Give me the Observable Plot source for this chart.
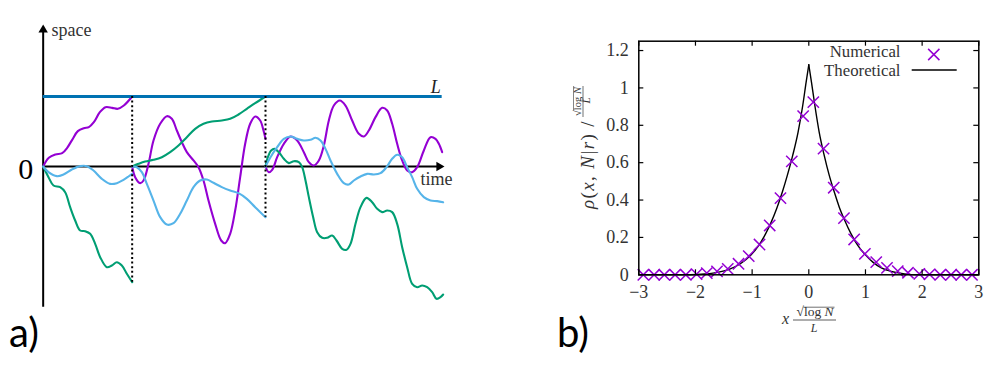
<!DOCTYPE html>
<html><head><meta charset="utf-8">
<script src="https://cdn.jsdelivr.net/npm/d3@7"></script>
<script src="https://cdn.jsdelivr.net/npm/@observablehq/plot@0.6"></script>
<style>
html,body{margin:0;padding:0;background:#fff;}
#wrap{position:relative;width:997px;height:371px;overflow:hidden;background:#fff;}
#wrap svg{position:absolute;top:0;}
</style></head><body><div id="wrap"></div>
<script>
// ---------- Panel a: random walks (time, space), L = 1 ----------
const timeMax = 12;
const spaceMax = 2.01;
const levelL = 1;

const purple1 = [[0,0],[0.17,0.124],[0.37,0.171],[0.57,0.19],[0.72,0.267],[0.87,0.381],[1.04,0.505],[1.22,0.548],[1.37,0.562],[1.52,0.633],[1.70,0.776],[1.87,0.848],[2.07,0.838],[2.24,0.824],[2.42,0.871],[2.67,1.0]];
const green1 = [[0,0],[0.16,-0.152],[0.31,-0.271],[0.51,-0.295],[0.66,-0.367],[0.81,-0.581],[0.96,-0.771],[1.11,-0.914],[1.26,-0.924],[1.41,-0.962],[1.56,-1.105],[1.71,-1.295],[1.91,-1.438],[2.06,-1.414],[2.21,-1.367],[2.36,-1.414],[2.51,-1.533],[2.67,-1.652]];
const blue1 = [[0,0],[0.16,-0.081],[0.41,-0.138],[0.61,-0.114],[0.86,-0.043],[1.11,0.005],[1.31,0.005],[1.51,-0.057],[1.76,-0.176],[2.01,-0.248],[2.21,-0.238],[2.41,-0.190],[2.56,-0.143],[2.67,-0.105]];

const purple2 = [[2.67,0],[2.76,-0.152],[2.91,-0.238],[3.01,-0.2],[3.16,0.038],[3.31,0.371],[3.51,0.610],[3.71,0.719],[3.86,0.681],[4.01,0.514],[4.16,0.348],[4.31,0.205],[4.51,0.086],[4.66,-0.01],[4.81,-0.2],[4.96,-0.486],[5.16,-0.819],[5.34,-1.057],[5.46,-1.095],[5.61,-0.962],[5.76,-0.629],[5.91,-0.152],[6.06,0.324],[6.21,0.610],[6.36,0.714],[6.51,0.657],[6.61,0.514],[6.67,0.395]];
const green2 = [[2.67,0],[2.86,0.038],[3.06,0.071],[3.31,0.095],[3.56,0.133],[3.81,0.205],[4.06,0.3],[4.31,0.419],[4.56,0.538],[4.81,0.610],[5.06,0.643],[5.36,0.657],[5.61,0.681],[5.86,0.743],[6.11,0.824],[6.36,0.905],[6.67,1.0]];
const blue2 = [[2.67,0],[2.81,-0.01],[2.96,-0.081],[3.11,-0.248],[3.31,-0.486],[3.51,-0.724],[3.71,-0.829],[3.91,-0.810],[4.11,-0.676],[4.31,-0.486],[4.51,-0.295],[4.71,-0.2],[4.91,-0.186],[5.11,-0.233],[5.36,-0.295],[5.61,-0.343],[5.86,-0.381],[6.11,-0.462],[6.36,-0.581],[6.67,-0.724]];

const purple3 = [[6.67,0],[6.77,-0.081],[6.87,-0.048],[7.02,0.133],[7.22,0.324],[7.42,0.429],[7.62,0.371],[7.82,0.205],[7.97,0.062],[8.12,0.014],[8.27,0.086],[8.42,0.3],[8.57,0.657],[8.72,0.871],[8.9,0.943],[9.07,0.871],[9.27,0.657],[9.47,0.467],[9.62,0.429],[9.77,0.514],[9.97,0.705],[10.17,0.838],[10.32,0.8],[10.47,0.610],[10.62,0.324],[10.77,0.086],[10.92,-0.057],[11.07,-0.081],[11.22,-0.01],[11.42,0.229],[11.62,0.419],[11.77,0.395],[11.87,0.324],[11.97,0.205]];
const green3 = [[6.67,0],[6.74,0.133],[6.84,0.229],[6.94,0.252],[7.07,0.205],[7.22,0.110],[7.37,0.048],[7.52,0.076],[7.67,0.062],[7.77,-0.01],[7.87,-0.2],[7.97,-0.438],[8.10,-0.724],[8.22,-0.938],[8.37,-1.019],[8.52,-1.019],[8.67,-0.986],[8.80,-1.057],[8.97,-1.176],[9.10,-1.190],[9.22,-1.105],[9.37,-0.819],[9.52,-0.581],[9.70,-0.448],[9.87,-0.510],[10.02,-0.605],[10.17,-0.652],[10.32,-0.629],[10.47,-0.652],[10.62,-0.819],[10.77,-1.152],[10.92,-1.438],[11.07,-1.676],[11.22,-1.724],[11.37,-1.7],[11.52,-1.724],[11.67,-1.795],[11.80,-1.890],[11.92,-1.867],[12.0,-1.829]];
const blue3 = [[6.67,0],[6.82,0.133],[7.02,0.276],[7.22,0.395],[7.42,0.429],[7.62,0.395],[7.82,0.371],[8.02,0.381],[8.17,0.410],[8.32,0.371],[8.47,0.252],[8.62,0.086],[8.82,-0.105],[9.02,-0.238],[9.17,-0.257],[9.32,-0.2],[9.52,-0.143],[9.72,-0.105],[9.92,-0.114],[10.12,-0.095],[10.30,-0.01],[10.47,0.110],[10.62,0.167],[10.77,0.133],[10.92,-0.01],[11.07,-0.152],[11.22,-0.319],[11.42,-0.438],[11.62,-0.486],[11.82,-0.495],[12.0,-0.510]];

// ---------- Panel b: density ----------
const numX = [-2.92,-2.73,-2.55,-2.36,-2.17,-1.98,-1.80,-1.62,-1.43,-1.24,-1.06,-0.87,-0.69,-0.50,-0.30,-0.10,0.08,0.26,0.44,0.62,0.80,0.99,1.19,1.38,1.57,1.75,1.95,2.13,2.32,2.51,2.69,2.88];
const numY = [0,0,0,0,0,0.004,0.009,0.018,0.032,0.059,0.100,0.162,0.264,0.410,0.607,0.849,0.924,0.675,0.466,0.303,0.189,0.112,0.068,0.037,0.020,0.011,0.005,0.002,0,0,0,0];
const theoryX = [-3,-2.09,-1.83,-1.59,-1.385,-1.207,-1.03,-0.882,-0.763,-0.663,-0.568,-0.467,-0.379,-0.284,-0.189,-0.107,-0.047,0,0.047,0.107,0.183,0.272,0.361,0.45,0.538,0.627,0.746,0.864,0.982,1.13,1.28,1.456,1.69,1.93,3];
const theoryY = [0,0,0.004,0.014,0.032,0.059,0.103,0.157,0.219,0.282,0.353,0.443,0.532,0.639,0.764,0.906,1.031,1.124,1.031,0.906,0.764,0.639,0.532,0.443,0.362,0.296,0.219,0.157,0.112,0.068,0.037,0.018,0.005,0,0];
const xTicks = [-3,-2,-1,0,1,2,3];
const yTicks = [0,0.2,0.4,0.6,0.8,1,1.2];

// ---------- build panel a ----------
const segs = {purple:[purple1,purple2,purple3], green:[green1,green2,green3], blue:[blue1,blue2,blue3]};
const colors = {purple:"#9400d3", green:"#009e73", blue:"#56b4e9"};
function rows(name){ const out=[]; segs[name].forEach((seg,i)=>seg.forEach(([t,s])=>out.push({t,s,seg:name+i}))); return out; }
const resets = [0,1].map(i => ({
  t: segs.purple[i][segs.purple[i].length-1][0],
  low: Math.min(...Object.keys(segs).map(k => segs[k][i][segs[k][i].length-1][1]))
}));

const serif = "'Liberation Serif', 'Times New Roman', 'DejaVu Serif', serif";
const svgA = Plot.plot({
  width: 480, height: 371,
  marginLeft: 42.67, marginRight: 37.33, marginTop: 25.3, marginBottom: 64.3,
  x: {domain: [0, timeMax], axis: null},
  y: {domain: [-spaceMax, spaceMax], axis: null},
  style: {background: "transparent", fontFamily: serif},
  marks: [
    Plot.ruleX([0], {y1: -spaceMax, y2: spaceMax - 0.02, stroke: "black", strokeWidth: 2}),
    Plot.ruleY([0], {x1: 0, x2: timeMax - 0.05, stroke: "black", strokeWidth: 2}),
    Plot.dot([{t: 0, s: spaceMax}], {x: "t", y: "s", symbol: "triangle", r: 3.5, fill: "black", stroke: "none", dy: 4.1}),
    Plot.dot([{t: timeMax, s: 0}], {x: "t", y: "s", symbol: "triangle", r: 3.5, fill: "black", stroke: "none", rotate: 90, dx: -4.1}),
    ...Object.keys(segs).map(k => Plot.line(rows(k), {x: "t", y: "s", z: "seg", stroke: colors[k], strokeWidth: 2.1, curve: "catmull-rom"})),
    Plot.ruleY([levelL], {x1: 0, x2: timeMax - 0.03, stroke: "#0072b2", strokeWidth: 3}),
    Plot.ruleX(resets, {x: "t", y1: levelL, y2: "low", stroke: "black", strokeWidth: 2, strokeDasharray: "2,2.6"}),
    Plot.text([{t: 0, s: spaceMax}], {x: "t", y: "s", text: () => "space", dx: 8.3, dy: 4.9, textAnchor: "start", lineAnchor: "middle", fontSize: 18, fill: "#333", fontFamily: serif}),
    Plot.text([{t: timeMax, s: 0}], {x: "t", y: "s", text: () => "time", dx: -22.7, dy: 13.2, textAnchor: "start", lineAnchor: "middle", fontSize: 18, fill: "#333", fontFamily: serif}),
    Plot.text([{t: timeMax, s: levelL}], {x: "t", y: "s", text: () => "L", dx: -2.3, dy: -9.1, textAnchor: "end", lineAnchor: "middle", fontSize: 18, fontStyle: "italic", fill: "#222", fontFamily: serif}),
    Plot.text([{t: 0, s: 0}], {x: "t", y: "s", text: () => "0", dx: -17.4, dy: 2.4, textAnchor: "middle", lineAnchor: "middle", fontSize: 30, fill: "black", fontFamily: serif})
  ]
});
svgA.style.left = "0px";

// ---------- build panel b ----------
const numerical = numX.map((x, i) => ({x, y: numY[i]}));
const theory = [];
theoryX.forEach((x, i) => {
  if (x <= 0) theory.push({x, y: theoryY[i], side: "left"});
  if (x >= 0) theory.push({x, y: theoryY[i], side: "right"});
});
const fh = 274.3 - 40.7, fw = 978.3 - 638.3;
const fmt = d => d < 0 ? "\u2212" + (-d) : String(d);
const svgB = Plot.plot({
  width: 517, height: 371,
  marginLeft: 158.3, marginRight: 18.7, marginTop: 40.7, marginBottom: 96.7,
  x: {domain: [-3, 3]}, y: {domain: [0, 1.25]},
  style: {background: "transparent", fontFamily: serif, fontSize: "18px", color: "#333"},
  marks: [
    Plot.line(theory, {x: "x", y: "y", z: "side", stroke: "black", strokeWidth: 1.4, curve: "monotone-x"}),
    Plot.dot(numerical, {x: "x", y: "y", symbol: "times", r: 5.2, stroke: "#9400d3", strokeWidth: 1.5}),
    Plot.tickX(xTicks, {x: d => d, insetTop: fh - 5, stroke: "black", strokeWidth: 1.2}),
    Plot.tickX(xTicks, {x: d => d, insetBottom: fh - 5, stroke: "black", strokeWidth: 1.2}),
    Plot.tickY(yTicks, {y: d => d, insetRight: fw - 5, stroke: "black", strokeWidth: 1.2}),
    Plot.tickY(yTicks, {y: d => d, insetLeft: fw - 5, stroke: "black", strokeWidth: 1.2}),
    Plot.frame({stroke: "black", strokeWidth: 1.5}),
    Plot.axisX({ticks: xTicks, tickSize: 0, tickPadding: 10, tickFormat: fmt, label: null, fontSize: 18, fontFamily: serif}),
    Plot.axisY({ticks: yTicks, tickSize: 0, tickPadding: 10, tickFormat: fmt, label: null, fontSize: 18, fontFamily: serif}),
    Plot.text(["Numerical"], {text: d => d, frameAnchor: "top-right", dx: -78.3, dy: 10.9, textAnchor: "end", lineAnchor: "middle", fontSize: 16.8, fill: "#333", fontFamily: serif}),
    Plot.text(["Theoretical"], {text: d => d, frameAnchor: "top-right", dx: -78.3, dy: 29.8, textAnchor: "end", lineAnchor: "middle", fontSize: 16.8, fill: "#333", fontFamily: serif}),
    Plot.dot([0], {frameAnchor: "top-right", dx: -45, dy: 13.3, symbol: "times", r: 5.2, stroke: "#9400d3", strokeWidth: 1.5})
  ]
});
svgB.style.left = "480px";

const wrap = document.getElementById("wrap");
wrap.appendChild(svgA);
wrap.appendChild(svgB);

// ---------- annotations ----------
const sa = d3.select(svgA), sb = d3.select(svgB), ox = 480;
sa.append("text").attr("x", 24).attr("y", 346.7).attr("font-family", "Lato, sans-serif").attr("font-size", 40).attr("fill", "black").text("a)");
sb.append("text").attr("x", 93).attr("y", 346.7).attr("font-family", "Lato, sans-serif").attr("font-size", 40).attr("fill", "black").text("b)");

// legend line
sb.append("line").attr("x1", 911.7 - ox).attr("x2", 956.7 - ox).attr("y1", 70).attr("y2", 70).attr("stroke", "black").attr("stroke-width", 1.4);

// one text element with italic tspans
function rich(parent, x, y, pieces, size, anchor, spacing) {
  const t = parent.append("text").attr("x", x).attr("y", y).attr("font-family", serif).attr("font-size", size)
    .attr("fill", "#333").attr("text-anchor", anchor).style("white-space", "pre");
  if (spacing) t.attr("letter-spacing", spacing);
  pieces.forEach(([s, it]) => { const sp = t.append("tspan").text(s); if (it) sp.attr("font-style", "italic"); });
  const b = t.node().getBBox();
  return {t, x0: b.x, x1: b.x + b.width, y0: b.y};
}

// x label: x * sqrt(log N) / L
const xg = sb.append("g");
rich(xg, 782 - ox, 324, [["x", 1]], 16, "start");
const xn = rich(xg, 815 - ox, 316.3, [["\u221A", 0], ["log ", 0], ["N", 1]], 13.5, "middle");
xg.append("line").attr("x1", xn.x0 + 7).attr("x2", xn.x1).attr("y1", 307.2).attr("y2", 307.2).attr("stroke", "#333").attr("stroke-width", 0.7);
xg.append("line").attr("x1", 793 - ox).attr("x2", 836 - ox).attr("y1", 320).attr("y2", 320).attr("stroke", "#333").attr("stroke-width", 0.8);
rich(xg, 814 - ox, 331.7, [["L", 1]], 12, "middle");

// y label: rho(x, N|r) / (sqrt(log N)/L)
const yg = sb.append("g").attr("transform", `translate(${594 - ox},157) rotate(-90)`);
rich(yg, 37, 0, [["\u03C1", 1], ["(", 0], ["x", 1], [", ", 0], ["N", 1], ["|", 0], ["r", 1], [") /", 0]], 19, "end", 1.4);
const yn = rich(yg, 55.5, -12.7, [["\u221A", 0], ["log ", 0], ["N", 1]], 10.5, "middle");
yg.append("line").attr("x1", yn.x0 + 5.5).attr("x2", yn.x1).attr("y1", -20.5).attr("y2", -20.5).attr("stroke", "#333").attr("stroke-width", 0.6);
yg.append("line").attr("x1", 40).attr("x2", 71).attr("y1", -11).attr("y2", -11).attr("stroke", "#333").attr("stroke-width", 0.7);
rich(yg, 56.5, -3.8, [["L", 1]], 11, "middle");
</script></body></html>
